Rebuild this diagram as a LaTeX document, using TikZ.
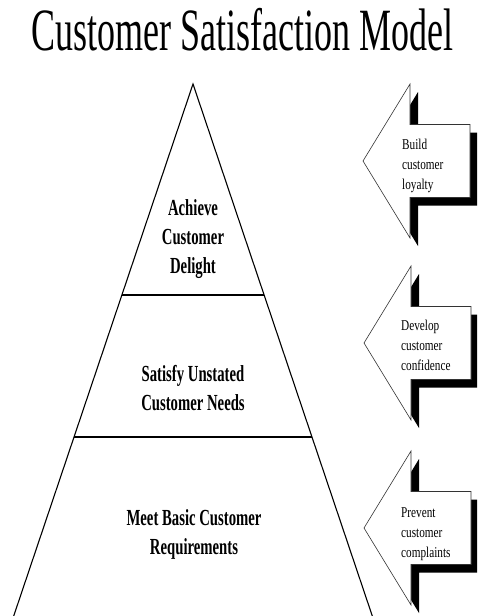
\documentclass[tikz,border=0pt]{standalone}
\usepackage{fontspec}
\setmainfont{Liberation Serif}
\newcommand{\pyrtext}[1]{\scalebox{0.64}[1]{\fontsize{23}{29}\selectfont\bfseries\begin{tabular}{@{}c@{}}#1\end{tabular}}}
\newcommand{\arrtext}[1]{\scalebox{0.75}[1]{\fontsize{15}{20}\selectfont\begin{tabular}{@{}l@{}}#1\end{tabular}}}
\tikzset{
  pyrline/.style={draw=black, line width=1.1pt},
  arrshape/.style={draw=black!80, line width=0.6pt, fill=white},
  labeltext/.style={inner sep=0pt},
  sharrow/.pic={
    \fill[black] (8,8) -- (55,-69) -- (55,-28.5) -- (115,-28.5) -- (115,44.5) -- (55,44.5) -- (55,85) -- cycle;
    \path[arrshape] (0,0) -- (47,-77) -- (47,-36.5) -- (107,-36.5) -- (107,36.5) -- (47,36.5) -- (47,77) -- cycle;
  }
}
\begin{document}
\begin{tikzpicture}[x=1pt,y=-1pt]
\useasboundingbox (0,0) rectangle (477,616);
\fill[white] (0,0) rectangle (477,616);
\begin{scope}
\clip (0,0) rectangle (477,616);
% title
\node[labeltext, anchor=base] (title) at (242.5,50) {\scalebox{0.6}[1]{\fontsize{60}{60}\selectfont Customer Satisfaction Model}};
% pyramid
\coordinate (apex) at (193,84);
\coordinate (bl) at (13.7,616);
\coordinate (br) at (372.3,616);
\coordinate (d1l) at (121.9,295);
\coordinate (d1r) at (264.1,295);
\coordinate (d2l) at (74,437);
\coordinate (d2r) at (312,437);
\draw[pyrline] (bl) -- (apex) -- (br);
\draw[pyrline] (d1l) -- (d1r);
\draw[pyrline] (d2l) -- (d2r);
\node[labeltext] (t1) at (193,239) {\pyrtext{Achieve\\Customer\\Delight}};
\node[labeltext] (t2) at (193,390) {\pyrtext{Satisfy Unstated\\Customer Needs}};
\node[labeltext] (t3) at (194,534) {\pyrtext{Meet Basic Customer\\Requirements}};
% arrows
\pic at (363,161) {sharrow};
\pic at (364,343) {sharrow};
\pic at (364,528) {sharrow};
\node[labeltext, anchor=west] (a1) at (402,165) {\arrtext{Build\\customer\\loyalty}};
\node[labeltext, anchor=west] (a2) at (401,346) {\arrtext{Develop\\customer\\confidence}};
\node[labeltext, anchor=west] (a3) at (401,533) {\arrtext{Prevent\\customer\\complaints}};
\end{scope}
\end{tikzpicture}
\end{document}
